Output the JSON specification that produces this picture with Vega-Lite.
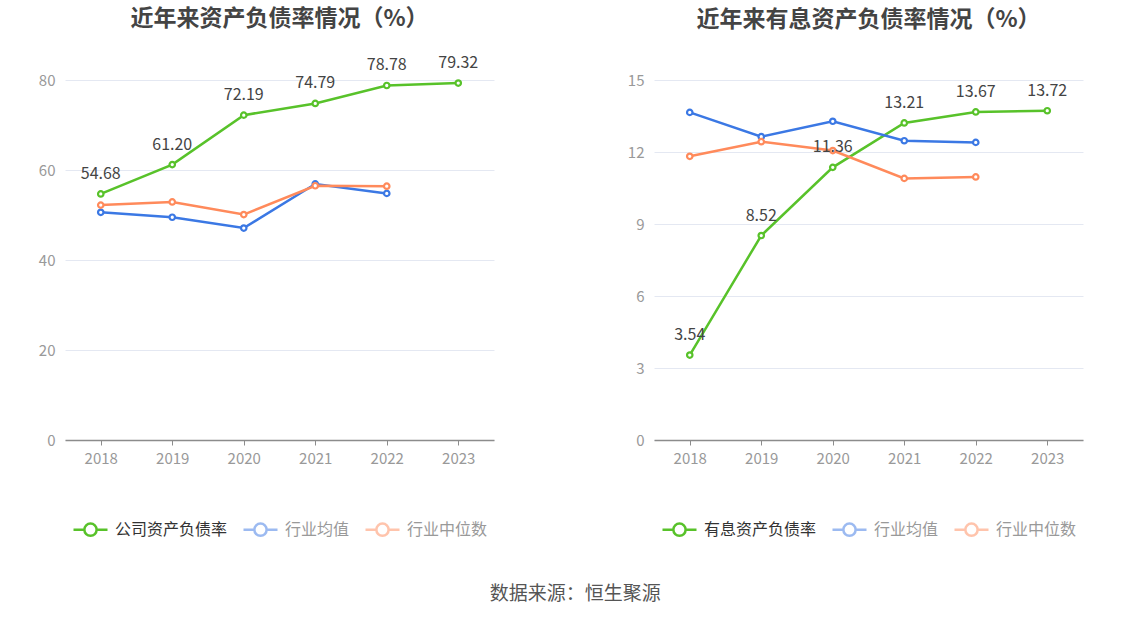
{
  "$schema": "https://vega.github.io/schema/vega-lite/v6.json",
  "background": "white",
  "padding": {"left": 38, "top": 8, "right": 10, "bottom": 10},
  "datasets": {
    "zcfz": [
      {"year": "2018", "series": "公司资产负债率", "value": 54.68},
      {"year": "2019", "series": "公司资产负债率", "value": 61.20},
      {"year": "2020", "series": "公司资产负债率", "value": 72.19},
      {"year": "2021", "series": "公司资产负债率", "value": 74.79},
      {"year": "2022", "series": "公司资产负债率", "value": 78.78},
      {"year": "2023", "series": "公司资产负债率", "value": 79.32},
      {"year": "2018", "series": "行业均值", "value": 50.6},
      {"year": "2019", "series": "行业均值", "value": 49.5},
      {"year": "2020", "series": "行业均值", "value": 47.1},
      {"year": "2021", "series": "行业均值", "value": 56.9},
      {"year": "2022", "series": "行业均值", "value": 54.8},
      {"year": "2018", "series": "行业中位数", "value": 52.2},
      {"year": "2019", "series": "行业中位数", "value": 52.9},
      {"year": "2020", "series": "行业中位数", "value": 50.1},
      {"year": "2021", "series": "行业中位数", "value": 56.5},
      {"year": "2022", "series": "行业中位数", "value": 56.4}
    ],
    "yxfz": [
      {"year": "2018", "series": "有息资产负债率", "value": 3.54},
      {"year": "2019", "series": "有息资产负债率", "value": 8.52},
      {"year": "2020", "series": "有息资产负债率", "value": 11.36},
      {"year": "2021", "series": "有息资产负债率", "value": 13.21},
      {"year": "2022", "series": "有息资产负债率", "value": 13.67},
      {"year": "2023", "series": "有息资产负债率", "value": 13.72},
      {"year": "2018", "series": "行业均值", "value": 13.65},
      {"year": "2019", "series": "行业均值", "value": 12.64},
      {"year": "2020", "series": "行业均值", "value": 13.28},
      {"year": "2021", "series": "行业均值", "value": 12.47},
      {"year": "2022", "series": "行业均值", "value": 12.40},
      {"year": "2018", "series": "行业中位数", "value": 11.82},
      {"year": "2019", "series": "行业中位数", "value": 12.43},
      {"year": "2020", "series": "行业中位数", "value": 12.06},
      {"year": "2021", "series": "行业中位数", "value": 10.90},
      {"year": "2022", "series": "行业中位数", "value": 10.96}
    ]
  },
  "title": {
    "text": "数据来源：恒生聚源",
    "orient": "bottom",
    "anchor": "middle",
    "fontSize": 19,
    "fontWeight": "normal",
    "color": "#555555",
    "offset": 37,
    "dx": 14
  },
  "spacing": 160,
  "bounds": "flush",
  "hconcat": [
    {
      "width": 429,
      "height": 360,
      "data": {"name": "zcfz"},
      "title": {"text": "近年来资产负债率情况（%）", "frame": "group", "offset": 24},
      "encoding": {
        "x": {"field": "year", "type": "ordinal", "title": null},
        "y": {
          "field": "value",
          "type": "quantitative",
          "title": null,
          "scale": {"domain": [0, 80], "nice": false},
          "axis": {"values": [0, 20, 40, 60, 80]}
        },
        "color": {
          "field": "series",
          "type": "nominal",
          "title": null,
          "scale": {
            "domain": ["公司资产负债率", "行业均值", "行业中位数"],
            "range": ["#58c22a", "#3b78e4", "#ff8a5b"]
          },
          "legend": {
            "labelColor": {"expr": "datum.value === '公司资产负债率' ? '#333333' : '#999999'"},
            "symbolOpacity": {"expr": "datum.value === '公司资产负债率' ? 1 : 0.5"}
          }
        }
      },
      "layer": [
        {
          "mark": {
            "type": "line",
            "strokeWidth": 2.5,
            "point": {"filled": false, "fill": "white", "size": 30, "strokeWidth": 2.2}
          }
        },
        {
          "transform": [{"filter": "datum.series === '公司资产负债率'"}],
          "mark": {"type": "text", "dy": -20, "fontSize": 16, "color": "#444444"},
          "encoding": {
            "text": {"field": "value", "type": "quantitative", "format": ".2f"},
            "color": {"value": "#444444"}
          }
        }
      ]
    },
    {
      "width": 429,
      "height": 360,
      "data": {"name": "yxfz"},
      "title": {"text": "近年来有息资产负债率情况（%）", "frame": "group", "offset": 41},
      "encoding": {
        "x": {"field": "year", "type": "ordinal", "title": null},
        "y": {
          "field": "value",
          "type": "quantitative",
          "title": null,
          "scale": {"domain": [0, 15], "nice": false},
          "axis": {"values": [0, 3, 6, 9, 12, 15]}
        },
        "color": {
          "field": "series",
          "type": "nominal",
          "title": null,
          "scale": {
            "domain": ["有息资产负债率", "行业均值", "行业中位数"],
            "range": ["#58c22a", "#3b78e4", "#ff8a5b"]
          },
          "legend": {
            "labelColor": {"expr": "datum.value === '有息资产负债率' ? '#333333' : '#999999'"},
            "symbolOpacity": {"expr": "datum.value === '有息资产负债率' ? 1 : 0.5"}
          }
        }
      },
      "layer": [
        {
          "mark": {
            "type": "line",
            "strokeWidth": 2.5,
            "point": {"filled": false, "fill": "white", "size": 30, "strokeWidth": 2.2}
          }
        },
        {
          "transform": [{"filter": "datum.series === '有息资产负债率'"}],
          "mark": {"type": "text", "dy": -20, "fontSize": 16, "color": "#444444"},
          "encoding": {
            "text": {"field": "value", "type": "quantitative", "format": ".2f"},
            "color": {"value": "#444444"}
          }
        }
      ]
    }
  ],
  "resolve": {"scale": {"color": "independent", "y": "independent"}, "legend": {"color": "independent"}},
  "config": {
    "font": "Noto Sans CJK SC",
    "view": {"stroke": null},
    "title": {"fontSize": 23, "fontWeight": "bold", "color": "#444444", "anchor": "middle"},
    "axisX": {
      "labelAngle": 0,
      "labelColor": "#999999",
      "labelFontSize": 15,
      "labelPadding": 6,
      "domainColor": "#8c8c8c",
      "domainWidth": 1.5,
      "tickColor": "#8c8c8c",
      "tickSize": 5,
      "grid": false
    },
    "axisY": {
      "labelColor": "#999999",
      "labelFontSize": 15,
      "labelPadding": 10,
      "domain": false,
      "ticks": false,
      "gridColor": "#e4e8f2",
      "gridWidth": 1
    },
    "legend": {
      "orient": "bottom",
      "direction": "horizontal",
      "offset": 38,
      "padding": 7,
      "labelFontSize": 16,
      "labelLimit": 220,
      "columnPadding": 10,
      "symbolType": "M-1,0L-0.36,0M0.36,0L1,0M-0.36,0A0.36,0.36,0,1,1,0.36,0A0.36,0.36,0,1,1,-0.36,0Z",
      "symbolSize": 1156,
      "symbolStrokeWidth": 2.5,
      "symbolFillColor": "white",
      "labelOffset": 6
    }
  }
}
